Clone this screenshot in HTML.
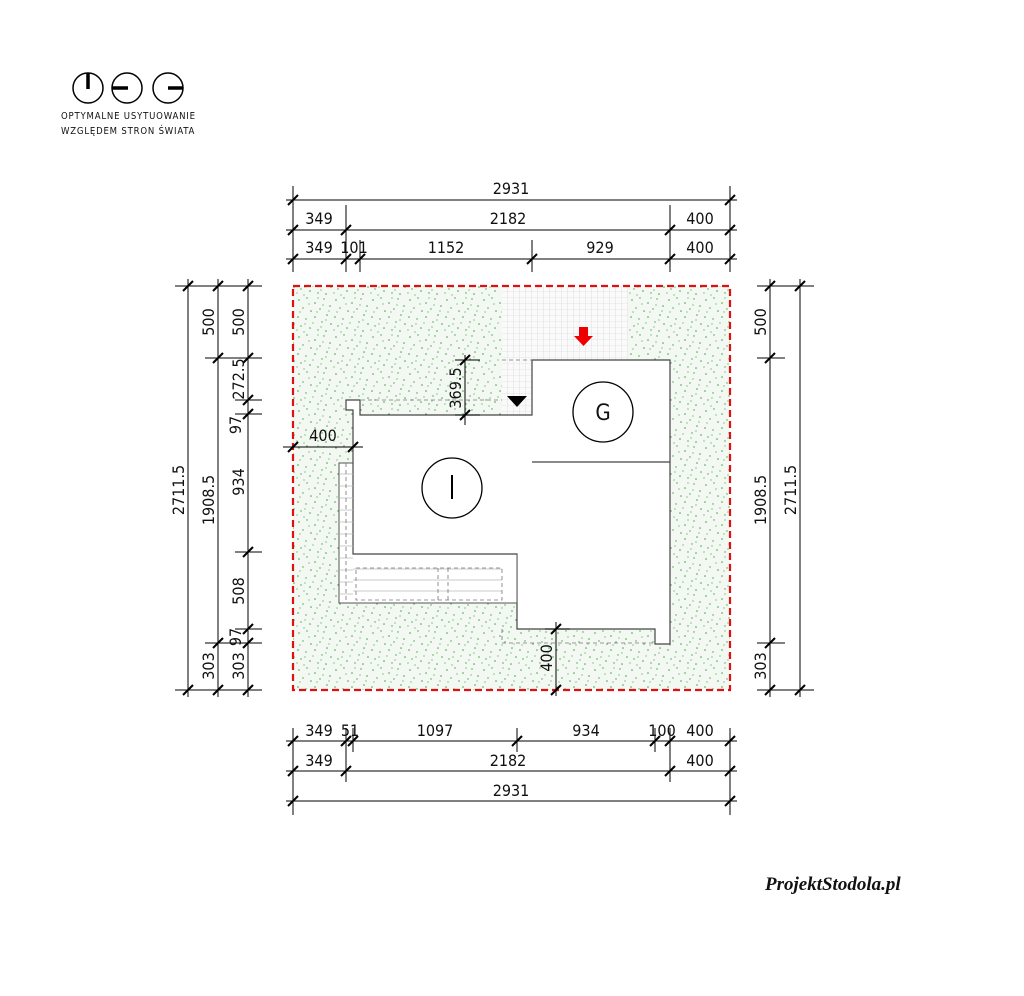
<!DOCTYPE html>
<html><head><meta charset="utf-8"><style>
html,body{margin:0;padding:0;background:#fff}
svg{display:block}
text{font-family:"DejaVu Sans Condensed","Liberation Sans Narrow","Liberation Sans",sans-serif;font-size:16px;fill:#111}
.s{font-size:9.5px;letter-spacing:0.8px}
</style></head><body>
<svg width="1024" height="996" viewBox="0 0 1024 996" xmlns="http://www.w3.org/2000/svg">
<defs>
<pattern id="sp" width="37" height="37" patternUnits="userSpaceOnUse">
<rect width="37" height="37" fill="#f4f8f2"/>
<g fill="#3faa3f">
<circle cx="3" cy="4" r="0.8"/><circle cx="11" cy="2" r="0.7"/><circle cx="19" cy="7" r="0.8"/><circle cx="28" cy="3" r="0.7"/><circle cx="34" cy="10" r="0.8"/>
<circle cx="7" cy="12" r="0.7"/><circle cx="15" cy="15" r="0.8"/><circle cx="24" cy="13" r="0.7"/><circle cx="31" cy="19" r="0.8"/><circle cx="2" cy="21" r="0.8"/>
<circle cx="10" cy="23" r="0.7"/><circle cx="19" cy="21" r="0.8"/><circle cx="26" cy="26" r="0.7"/><circle cx="35" cy="28" r="0.8"/><circle cx="5" cy="30" r="0.7"/>
<circle cx="14" cy="32" r="0.8"/><circle cx="22" cy="34" r="0.7"/><circle cx="30" cy="35" r="0.8"/><circle cx="17" cy="27" r="0.6"/><circle cx="8" cy="36" r="0.6"/>
<circle cx="13" cy="8" r="0.6"/><circle cx="22" cy="2" r="0.6"/><circle cx="33" cy="15" r="0.6"/><circle cx="4" cy="16" r="0.6"/><circle cx="27" cy="9" r="0.6"/>
<circle cx="21" cy="16" r="0.6"/><circle cx="9" cy="28" r="0.6"/><circle cx="30" cy="24" r="0.6"/><circle cx="25" cy="31" r="0.6"/><circle cx="1" cy="34" r="0.6"/>
</g></pattern>
<pattern id="gr" width="6" height="6" patternUnits="userSpaceOnUse" x="502" y="286">
<rect width="6" height="6" fill="#fafafa"/><path d="M6,0V6M0,6H6" stroke="#d0d0d0" stroke-width="0.6"/></pattern>
<path id="t" d="M-5,5L5,-5" stroke="#000" stroke-width="2"/>
</defs>

<g stroke="#000" stroke-width="1.5" fill="none">
<circle cx="88" cy="88" r="15"/><circle cx="127" cy="88" r="15"/><circle cx="168" cy="88" r="15"/>
</g>
<g stroke="#000" stroke-width="3.5"><path d="M88,73V89M112,88H128M168,88H183"/></g>
<text class="s" x="61" y="119">OPTYMALNE USYTUOWANIE</text>
<text class="s" x="61" y="134">WZGLĘDEM STRON ŚWIATA</text>

<rect x="293" y="286" width="437" height="404" fill="url(#sp)"/>
<rect x="502" y="286" width="126" height="74" fill="url(#gr)"/>
<rect x="502" y="360" width="30" height="55" fill="url(#gr)"/>
<path d="M353,415V554H517V629H655V644H670V360H532V415H360V400H346V410H353Z" fill="#fff" stroke="#444" stroke-width="1.2"/>
<path d="M532,462H670" stroke="#444" stroke-width="1.2"/>
<rect x="339" y="463" width="178" height="140" fill="#fff" stroke="none"/>
<path d="M353,463V554H517V603H339V463Z" fill="#fff" stroke="#555" stroke-width="1"/>
<path d="M353,463V554H517" fill="none" stroke="#444" stroke-width="1.2"/>
<g stroke="#bbb" stroke-width="0.7"><path d="M339,474H353M339,486H353M339,498H353M339,510H353M339,522H353M339,534H353M339,546H353M339,558H353M339,570H353M339,582H353M339,594H353"/>
<path d="M353,569H502M353,580H502M353,591H502"/></g>
<g stroke="#777" stroke-width="0.8" stroke-dasharray="4,3" fill="none">
<path d="M346,463V603"/><rect x="356" y="568" width="146" height="32"/><path d="M438,568V600M448,568V600"/>
<path d="M361,400H502M502,360H532M502,629V643H655"/>
</g>
<path d="M507,396H527L517,407Z" fill="#000"/>
<path d="M579,327H588V336H593L583.5,346L574,336H579Z" fill="#e00"/>
<circle cx="603" cy="412" r="30" fill="none" stroke="#000" stroke-width="1.3"/>
<text x="603" y="420" text-anchor="middle" style="font-size:22px">G</text>
<circle cx="452" cy="488" r="30" fill="none" stroke="#000" stroke-width="1.3"/>
<path d="M452,475V499" stroke="#000" stroke-width="2"/>
<rect x="293" y="286" width="437" height="404" fill="none" stroke="#e01010" stroke-width="2.2" stroke-dasharray="7,4"/>

<g stroke="#000" stroke-width="1"><path d="M283,447H363M465,355V425M455,360H480M455,415H480M556,622V696M545,629H570"/></g>
<use href="#t" x="293" y="447"/><use href="#t" x="353" y="447"/>
<use href="#t" x="465" y="360"/><use href="#t" x="465" y="415"/>
<use href="#t" x="556" y="629"/><use href="#t" x="556" y="690"/>
<text x="323" y="441" text-anchor="middle">400</text>
<text transform="translate(461,388) rotate(-90)" text-anchor="middle">369.5</text>
<text transform="translate(552,658) rotate(-90)" text-anchor="middle">400</text>

<g stroke="#000" stroke-width="1">
<path d="M286,200H737M286,230H737M286,259H737"/>
<path d="M293,186V272M730,186V272M346,205V272M670,205V272M360,240V272M532,240V272"/>
</g>
<use href="#t" x="293" y="200"/><use href="#t" x="730" y="200"/>
<use href="#t" x="293" y="230"/><use href="#t" x="346" y="230"/><use href="#t" x="670" y="230"/><use href="#t" x="730" y="230"/>
<use href="#t" x="293" y="259"/><use href="#t" x="346" y="259"/><use href="#t" x="360" y="259"/><use href="#t" x="532" y="259"/><use href="#t" x="670" y="259"/><use href="#t" x="730" y="259"/>
<text x="511" y="194" text-anchor="middle">2931</text>
<text x="319" y="224" text-anchor="middle">349</text><text x="508" y="224" text-anchor="middle">2182</text><text x="700" y="224" text-anchor="middle">400</text>
<text x="319" y="253" text-anchor="middle">349</text><text x="354" y="253" text-anchor="middle">101</text><text x="446" y="253" text-anchor="middle">1152</text><text x="600" y="253" text-anchor="middle">929</text><text x="700" y="253" text-anchor="middle">400</text>

<g stroke="#000" stroke-width="1">
<path d="M286,741H737M286,771H737M286,801H737"/>
<path d="M293,728V815M730,728V815M346,728V782M670,728V782M353,728V752M517,728V752M655,728V752"/>
</g>
<use href="#t" x="293" y="741"/><use href="#t" x="346" y="741"/><use href="#t" x="353" y="741"/><use href="#t" x="517" y="741"/><use href="#t" x="655" y="741"/><use href="#t" x="670" y="741"/><use href="#t" x="730" y="741"/>
<use href="#t" x="293" y="771"/><use href="#t" x="346" y="771"/><use href="#t" x="670" y="771"/><use href="#t" x="730" y="771"/>
<use href="#t" x="293" y="801"/><use href="#t" x="730" y="801"/>
<text x="319" y="736" text-anchor="middle">349</text><text x="350" y="736" text-anchor="middle">51</text><text x="435" y="736" text-anchor="middle">1097</text><text x="586" y="736" text-anchor="middle">934</text><text x="662" y="736" text-anchor="middle">100</text><text x="700" y="736" text-anchor="middle">400</text>
<text x="319" y="766" text-anchor="middle">349</text><text x="508" y="766" text-anchor="middle">2182</text><text x="700" y="766" text-anchor="middle">400</text>
<text x="511" y="796" text-anchor="middle">2931</text>

<g stroke="#000" stroke-width="1">
<path d="M188,279V697M218,279V697M248,279V697"/>
<path d="M175,286H262M175,690H262M205,358H262M205,643H262M235,400H262M235,414H262M235,552H262M235,629H262"/>
</g>
<use href="#t" x="188" y="286"/><use href="#t" x="188" y="690"/>
<use href="#t" x="218" y="286"/><use href="#t" x="218" y="358"/><use href="#t" x="218" y="643"/><use href="#t" x="218" y="690"/>
<use href="#t" x="248" y="286"/><use href="#t" x="248" y="358"/><use href="#t" x="248" y="400"/><use href="#t" x="248" y="414"/><use href="#t" x="248" y="552"/><use href="#t" x="248" y="629"/><use href="#t" x="248" y="643"/><use href="#t" x="248" y="690"/>
<text transform="translate(184,490) rotate(-90)" text-anchor="middle">2711.5</text>
<text transform="translate(214,322) rotate(-90)" text-anchor="middle">500</text>
<text transform="translate(214,500) rotate(-90)" text-anchor="middle">1908.5</text>
<text transform="translate(214,666) rotate(-90)" text-anchor="middle">303</text>
<text transform="translate(244,322) rotate(-90)" text-anchor="middle">500</text>
<text transform="translate(244,379) rotate(-90)" text-anchor="middle">272.5</text>
<text transform="translate(241,425) rotate(-90)" text-anchor="middle">97</text>
<text transform="translate(244,482) rotate(-90)" text-anchor="middle">934</text>
<text transform="translate(244,591) rotate(-90)" text-anchor="middle">508</text>
<text transform="translate(241,637) rotate(-90)" text-anchor="middle">97</text>
<text transform="translate(244,666) rotate(-90)" text-anchor="middle">303</text>

<g stroke="#000" stroke-width="1">
<path d="M770,279V697M800,279V697"/>
<path d="M757,286H814M757,690H814M757,358H785M757,643H785"/>
</g>
<use href="#t" x="770" y="286"/><use href="#t" x="770" y="358"/><use href="#t" x="770" y="643"/><use href="#t" x="770" y="690"/>
<use href="#t" x="800" y="286"/><use href="#t" x="800" y="690"/>
<text transform="translate(766,322) rotate(-90)" text-anchor="middle">500</text>
<text transform="translate(766,500) rotate(-90)" text-anchor="middle">1908.5</text>
<text transform="translate(766,666) rotate(-90)" text-anchor="middle">303</text>
<text transform="translate(796,490) rotate(-90)" text-anchor="middle">2711.5</text>

<text x="765" y="890" style="font-family:'Liberation Serif',serif;font-style:italic;font-weight:bold;font-size:19px">ProjektStodola.pl</text>
</svg>
</body></html>
